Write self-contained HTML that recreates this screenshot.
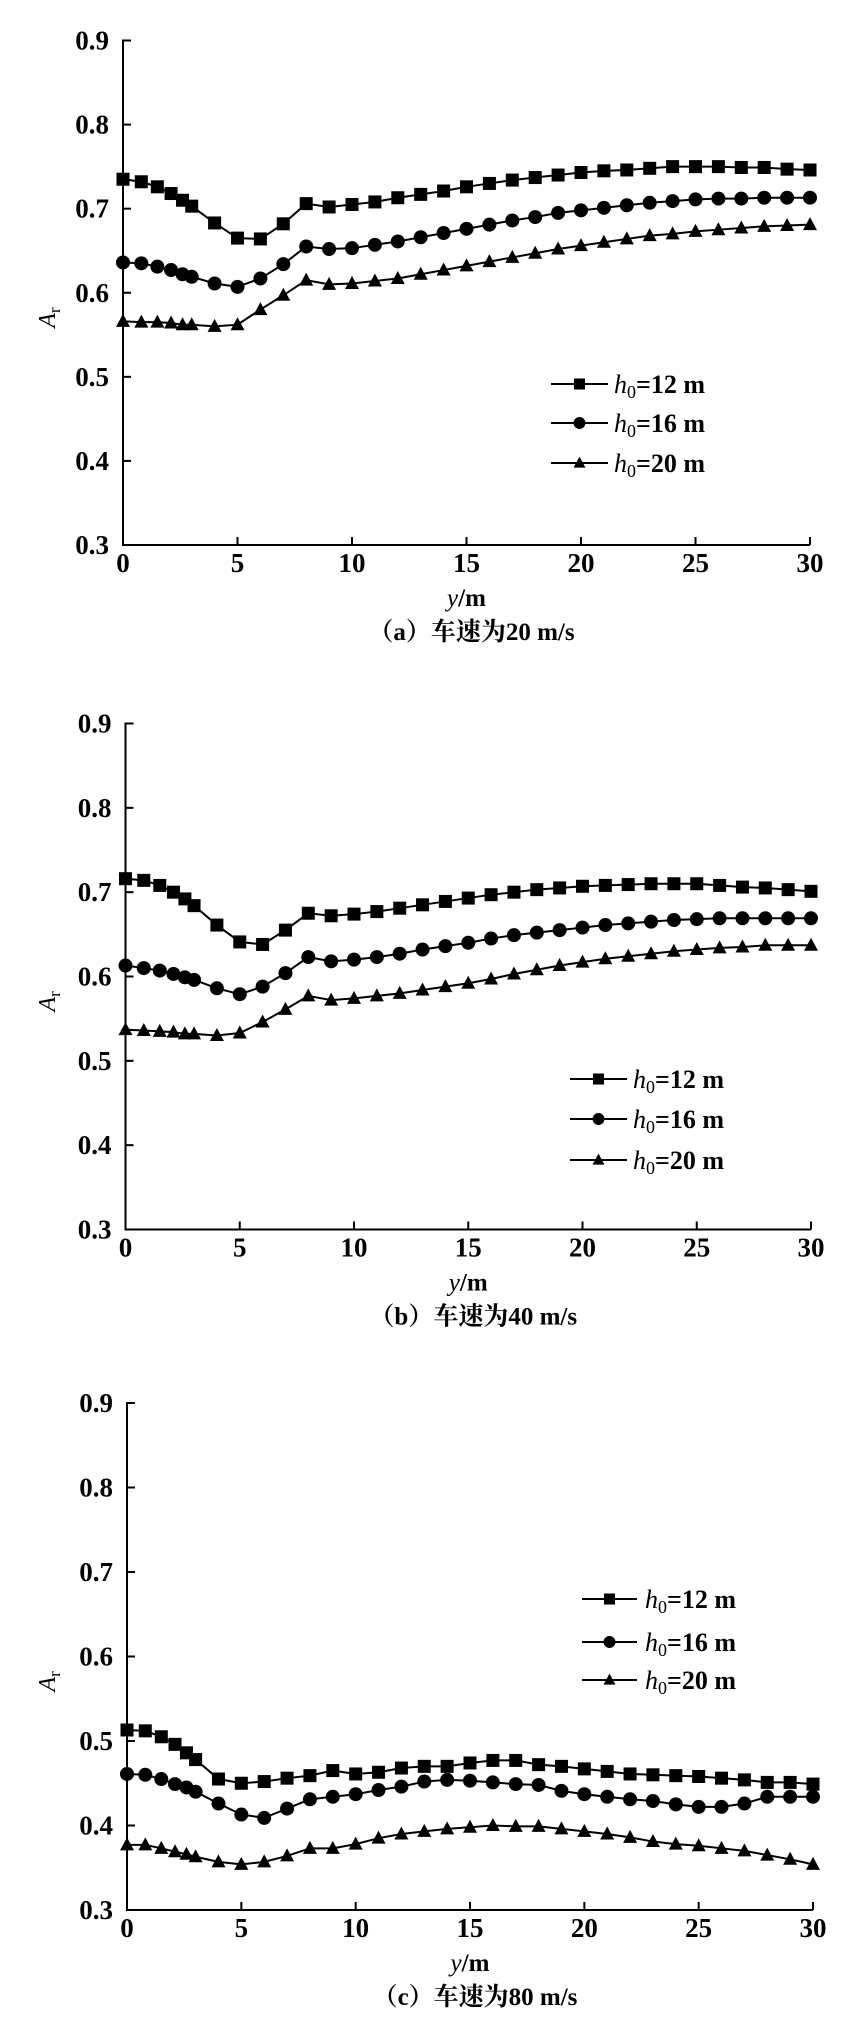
<!DOCTYPE html>
<html><head><meta charset="utf-8"><style>
body{margin:0;background:#fff;}
svg{display:block;}
text{font-family:"Liberation Serif","Noto Serif CJK SC",serif;fill:#000;}
</style></head><body>
<svg id="s" width="855" height="2028" xmlns="http://www.w3.org/2000/svg"></svg>
<script>
const xs=[0,0.8,1.5,2.1,2.6,3];for(let i=4;i<=30;i++)xs.push(i);
const charts=[
{x0:123,x1:810,y9:40.5,y3:545,capt:"（a）车速为20 m/s",
 leg:{y:[384,423,463],xa:551,xb:608,t:614},
 d:[[.735,.732,.726,.718,.71,.703,.683,.665,.664,.682,.706,.702,.705,.708,.713,.717,.721,.726,.730,.734,.737,.740,.743,.745,.746,.748,.750,.750,.750,.749,.749,.747,.746],
 [.636,.635,.631,.627,.622,.619,.611,.607,.617,.634,.655,.652,.653,.657,.661,.666,.671,.676,.681,.686,.690,.695,.698,.701,.704,.707,.709,.711,.712,.712,.713,.713,.713],
 [.566,.565,.565,.564,.562,.562,.560,.562,.580,.597,.615,.610,.611,.614,.617,.622,.627,.632,.637,.642,.647,.652,.656,.660,.664,.668,.670,.673,.675,.677,.679,.680,.681]]},
{x0:125.5,x1:811,y9:723.5,y3:1229.5,capt:"（b）车速为40 m/s",
 leg:{y:[1079,1119,1160],xa:570,xb:627,t:633},
 d:[[.716,.714,.708,.700,.692,.684,.661,.641,.638,.655,.675,.672,.674,.677,.681,.685,.689,.693,.697,.700,.703,.705,.707,.708,.709,.710,.710,.710,.708,.706,.705,.703,.701],
 [.613,.610,.607,.603,.599,.596,.586,.579,.588,.604,.623,.618,.620,.623,.627,.632,.636,.640,.645,.649,.652,.655,.658,.661,.663,.665,.667,.668,.669,.669,.669,.669,.669],
 [.537,.536,.535,.534,.532,.532,.530,.533,.546,.561,.577,.572,.574,.577,.580,.584,.588,.592,.597,.603,.608,.613,.617,.621,.624,.627,.630,.632,.634,.635,.637,.637,.637]]},
{x0:127,x1:813,y9:1403,y3:1910,capt:"（c）车速为80 m/s",
 leg:{y:[1599,1642,1680],xa:582,xb:637,t:645},
 d:[[.513,.512,.505,.496,.486,.478,.455,.450,.452,.456,.459,.465,.461,.463,.468,.470,.470,.474,.477,.477,.472,.470,.467,.464,.461,.460,.459,.458,.456,.454,.451,.451,.449],
 [.461,.460,.455,.449,.445,.440,.426,.413,.409,.420,.431,.434,.437,.442,.446,.452,.454,.453,.451,.449,.448,.441,.437,.434,.431,.429,.425,.422,.422,.426,.434,.434,.434],
 [.377,.377,.373,.369,.366,.363,.357,.354,.357,.364,.373,.373,.378,.385,.390,.393,.396,.398,.400,.399,.399,.396,.393,.390,.386,.381,.378,.376,.373,.370,.365,.360,.354]]}
];
let h='';
function mk(k,x,y,s){s=s||1;
 if(k==0)return `<rect x="${x-6.5*s}" y="${y-6.5*s}" width="${13*s}" height="${13*s}"/>`;
 if(k==1)return `<circle cx="${x}" cy="${y}" r="${7*s}"/>`;
 return `<polygon points="${x},${y-7.5*s} ${x+7*s},${y+5.5*s} ${x-7*s},${y+5.5*s}"/>`;
}
const labs=["12","16","20"];
for(const c of charts){
 const X=v=>c.x0+(c.x1-c.x0)*v/30, Y=v=>c.y3+(c.y9-c.y3)*(v-0.3)/0.6;
 h+=`<path d="M${c.x0},${c.y9-1}V${c.y3}H${c.x1}" fill="none" stroke="#000" stroke-width="2"/>`;
 for(let i=0;i<=6;i++){const v=0.3+i*0.1,y=Y(v);
  if(i>0)h+=`<line x1="${c.x0}" x2="${c.x0+8}" y1="${y}" y2="${y}" stroke="#000" stroke-width="2"/>`;
  h+=`<text x="${c.x0-14}" y="${y+9}" font-size="27" font-weight="bold" text-anchor="end">${v.toFixed(1)}</text>`;}
 for(let i=0;i<=6;i++){const x=X(i*5);
  if(i>0)h+=`<line x1="${x}" x2="${x}" y1="${c.y3}" y2="${c.y3-8}" stroke="#000" stroke-width="2"/>`;
  h+=`<text x="${x}" y="${c.y3+27}" font-size="27" font-weight="bold" text-anchor="middle">${i*5}</text>`;}
 const ym=(c.y9+c.y3)/2+35;
 h+=`<text transform="translate(55,${ym}) rotate(-90)" font-size="24" font-style="italic">A<tspan font-size="17" font-style="normal" dy="5">r</tspan></text>`;
 h+=`<text x="${(c.x0+c.x1)/2}" y="${c.y3+61}" font-size="25" text-anchor="middle"><tspan font-style="italic">y</tspan><tspan font-weight="bold">/m</tspan></text>`;
 h+=`<text x="${(c.x0+c.x1)/2+5}" y="${c.y3+95}" font-size="25" font-weight="bold" text-anchor="middle">${c.capt}</text>`;
 c.d.forEach((s,k)=>{
  h+=`<polyline fill="none" stroke="#000" stroke-width="2" points="${s.map((v,i)=>X(xs[i])+','+Y(v)).join(' ')}"/>`;
  s.forEach((v,i)=>h+=mk(k,X(xs[i]),Y(v)));
  const ly=c.leg.y[k];
  h+=`<line x1="${c.leg.xa}" x2="${c.leg.xb}" y1="${ly}" y2="${ly}" stroke="#000" stroke-width="2"/>`+mk(k,(c.leg.xa+c.leg.xb)/2,ly,0.85);
  h+=`<text x="${c.leg.t}" y="${ly+9}" font-size="26" font-weight="bold"><tspan font-style="italic" font-weight="normal">h</tspan><tspan font-size="18" font-weight="normal" dy="5">0</tspan><tspan dy="-5">=${labs[k]} m</tspan></text>`;
 });
}
document.getElementById('s').innerHTML=h;
</script>
</body></html>
